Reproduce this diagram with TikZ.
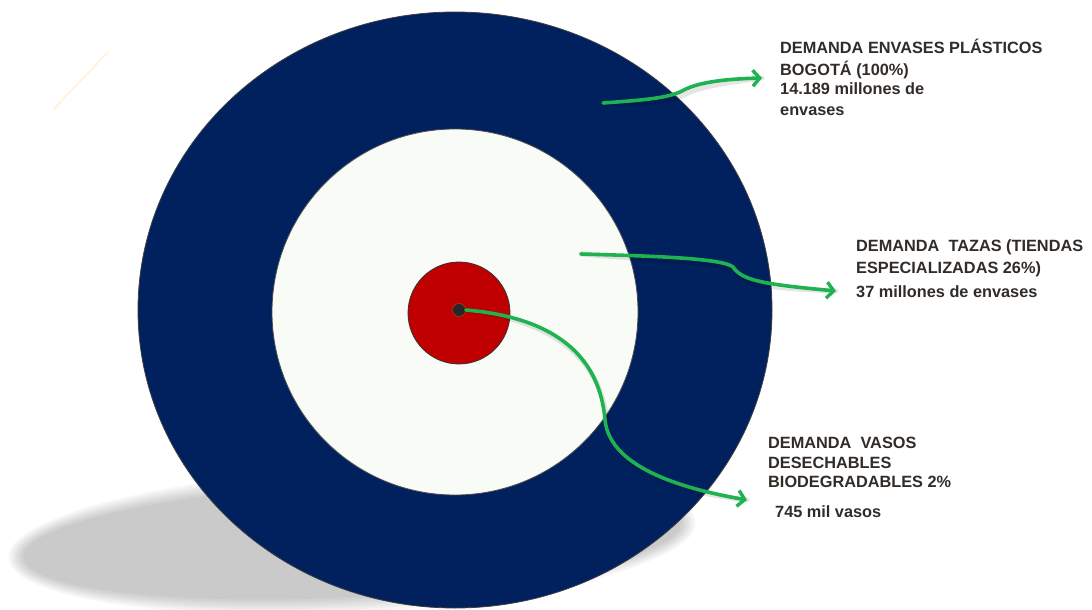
\documentclass[tikz,border=0pt]{standalone}
\usepackage{fontspec}
\setmainfont{Liberation Sans}
\usetikzlibrary{arrows.meta}
\definecolor{ringnavy}{RGB}{0,32,94}
\definecolor{ringwhite}{RGB}{249,251,246}
\definecolor{corered}{RGB}{192,0,0}
\definecolor{pointer}{RGB}{30,178,80}
\definecolor{labeltext}{RGB}{50,44,40}
\definecolor{dotfill}{RGB}{40,38,38}
\definecolor{dotrim}{RGB}{150,70,20}
\definecolor{glint}{RGB}{255,244,222}
\tikzset{
  label/.style={anchor=base west, inner sep=0pt, text=labeltext,
    font=\bfseries\fontsize{16.3}{20}\selectfont},
  pointerline/.style={draw=pointer, line width=3.6pt, line cap=round,
    -{Straight Barb[length=7pt,width=16pt,line width=3.4pt]}},
  pointershade/.style={draw=black, opacity=0.1, line width=5pt, line cap=round},
}
\begin{document}
\begin{tikzpicture}[x=1pt,y=-1pt]
\useasboundingbox (0,0) rectangle (1092,610);
\fill[white] (0,0) rectangle (1092,610);

% faint streak in the upper left
\draw[glint, line width=2pt, line cap=round] (53,110) -- (108,52);

% soft floor shadow under the target
\foreach \k in {0,...,6}
  \fill[black, opacity=0.03, rotate around={3:(352,540)}]
    (352,540) ellipse [x radius={344-\k*2.5}, y radius={72-\k*2.5}];

% concentric rings
\filldraw[fill=ringnavy, draw=black!75, line width=0.8pt]
  (455,310) ellipse [x radius=317, y radius=298];
\node[circle, minimum size=366pt, inner sep=0pt, fill=ringwhite,
  draw=black!70, line width=0.8pt] (mid) at (455,312) {};
\node[circle, minimum size=102pt, inner sep=0pt, fill=corered,
  draw=black!80, line width=0.8pt] (core) at (459,313) {};
\node[circle, minimum size=13pt, inner sep=0pt, fill=dotfill,
  draw=dotrim, line width=0.6pt] (dot) at (459,310) {};

% labels
\node[label] (t1a) at (780,54) {DEMANDA ENVASES PLÁSTICOS};
\node[label] (t1b) at (780,75) {BOGOTÁ (100\%)};
\node[label] (t1c) at (780,95) {14.189 millones de};
\node[label] (t1d) at (780,115) {envases};

\node[label] (t2a) at (856,251) {DEMANDA\ \ TAZAS (TIENDAS};
\node[label] (t2b) at (856,273) {ESPECIALIZADAS 26\%)};
\node[label] (t2c) at (856,297) {37 millones de envases};

\node[label] (t3a) at (768,448) {DEMANDA\ \ VASOS};
\node[label] (t3b) at (768,468) {DESECHABLES};
\node[label] (t3c) at (768,487) {BIODEGRADABLES 2\%};
\node[label] (t3d) at (775,517) {745 mil vasos};

% pointer anchors
\coordinate (p1s) at (603,103);
\coordinate (p1e) at (762,78);
\coordinate (p2s) at (581,254);
\coordinate (p2e) at (836,291);
\coordinate (p3e) at (747,500);

% pointer shadows
\begin{scope}[shift={(2,4)}]
\draw[pointershade] (p1s) .. controls (645,100) and (668,98) .. (682,91)
  .. controls (698,82) and (725,79) .. (p1e);
\draw[pointershade] (p2s) .. controls (650,256) and (722,258) .. (733,267)
  .. controls (742,280) and (760,284) .. (p2e);
\draw[pointershade] (dot.east) .. controls (560,318) and (600,360) .. (605,420)
  .. controls (610,470) and (690,490) .. (p3e);
\end{scope}

% pointers
\draw[pointerline] (p1s) .. controls (645,100) and (668,98) .. (682,91)
  .. controls (698,82) and (725,79) .. (p1e);
\draw[pointerline] (p2s) .. controls (650,256) and (722,258) .. (733,267)
  .. controls (742,280) and (760,284) .. (p2e);
\draw[pointerline] (dot.east) .. controls (560,318) and (600,360) .. (605,420)
  .. controls (610,470) and (690,490) .. (p3e);
\end{tikzpicture}
\end{document}
